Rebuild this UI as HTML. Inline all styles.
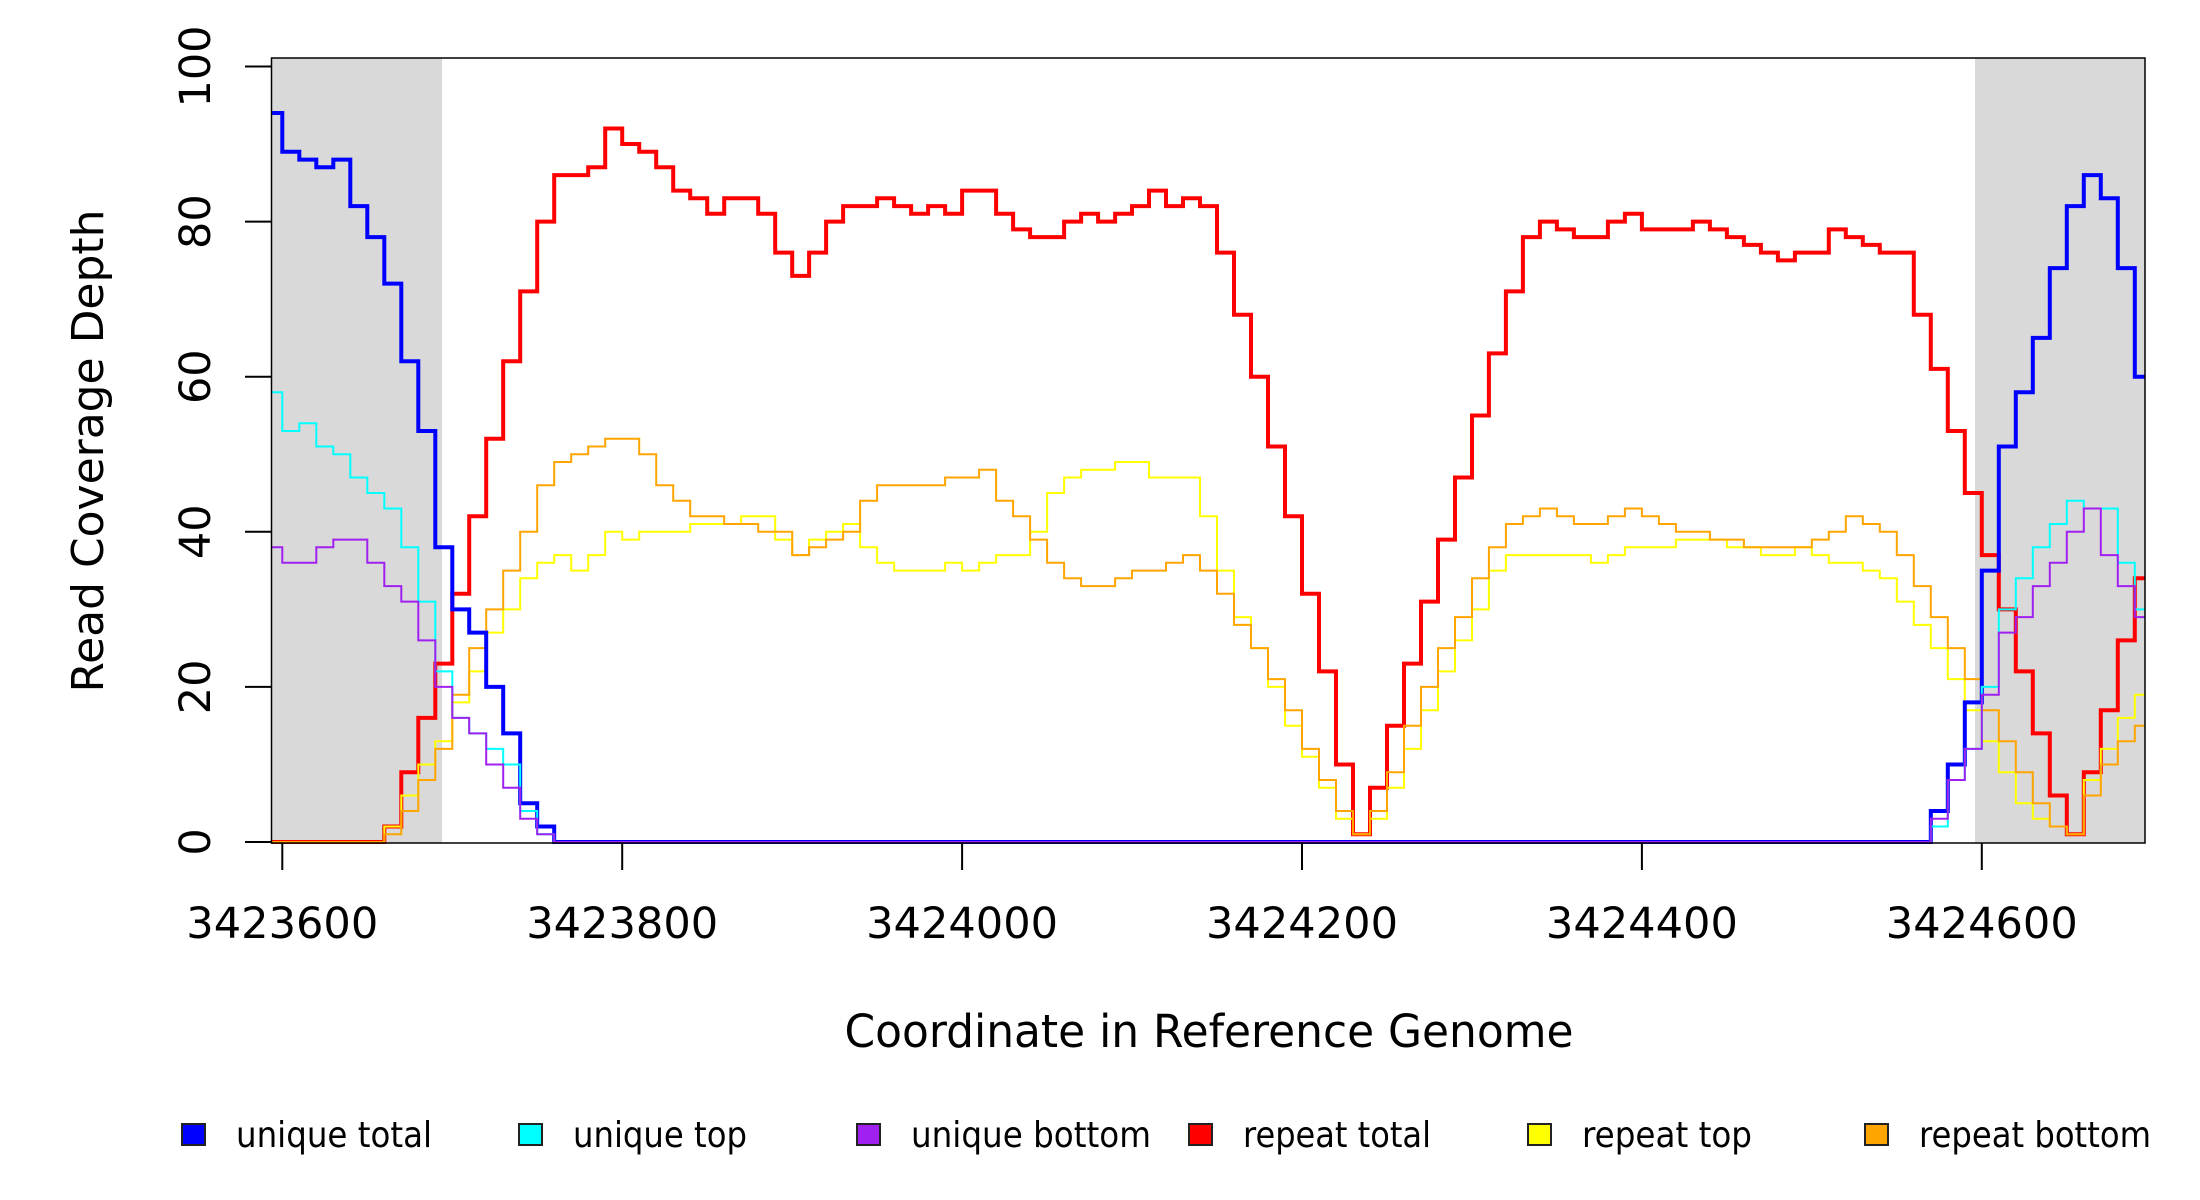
<!DOCTYPE html>
<html><head><meta charset="utf-8"><style>
html,body{margin:0;padding:0;background:#fff;}
svg{display:block;font-family:"DejaVu Sans","Liberation Sans",sans-serif;}
</style></head><body>
<svg id="chart" width="2200" height="1200" viewBox="0 0 2200 1200" xmlns="http://www.w3.org/2000/svg">
<g id="bg"></g>
<g id="series"></g>
<g id="axes"></g>
<text transform="translate(103,451) rotate(-90)" text-anchor="middle" font-size="44" textLength="483" lengthAdjust="spacingAndGlyphs">Read Coverage Depth</text>
<text x="1209" y="1047" text-anchor="middle" font-size="45" textLength="729" lengthAdjust="spacingAndGlyphs">Coordinate in Reference Genome</text>
<g id="legend"></g>
</svg>
<script>
// Positions: offset from 3423600, center of each 10bp bin: -5,5,...,1095
const binStart = -5;
const binWidth = 10;
const xTicks = [3423600, 3423800, 3424000, 3424200, 3424400, 3424600];
const yTicks = [0, 20, 40, 60, 80, 100];
const shadedRegions = [[3423594, 3423694], [3424596, 3424698]];
const seriesNames = ["repeat total","repeat top","repeat bottom","unique total","unique top","unique bottom"];
const legendOrder = ["unique total","unique top","unique bottom","repeat total","repeat top","repeat bottom"];
const legendWidths = [196,174,240,188,170,232];

const repeatTotal = [0,0,0,0,0,0,0,2,9,16,23,32,42,52,62,71,80,86,86,87,92,90,89,87,84,83,81,83,83,81,76,73,76,80,82,82,83,82,81,82,81,84,84,81,79,78,78,80,81,80,81,82,84,82,83,82,76,68,60,51,42,32,22,10,1,7,15,23,31,39,47,55,63,71,78,80,79,78,78,80,81,79,79,79,80,79,78,77,76,75,76,76,79,78,77,76,76,68,61,53,45,37,30,22,14,6,1,9,17,26,34];
const repeatTop = [0,0,0,0,0,0,0,2,6,10,13,18,22,27,30,34,36,37,35,37,40,39,40,40,40,41,41,41,42,42,39,37,39,40,41,38,36,35,35,35,36,35,36,37,37,40,45,47,48,48,49,49,47,47,47,42,35,29,25,20,15,11,7,3,1,3,7,12,17,22,26,30,35,37,37,37,37,37,36,37,38,38,38,39,39,39,38,38,37,37,38,37,36,36,35,34,31,28,25,21,17,13,9,5,3,2,1,8,12,16,19];
const repeatBottom = [0,0,0,0,0,0,0,1,4,8,12,19,25,30,35,40,46,49,50,51,52,52,50,46,44,42,42,41,41,40,40,37,38,39,40,44,46,46,46,46,47,47,48,44,42,39,36,34,33,33,34,35,35,36,37,35,32,28,25,21,17,12,8,4,1,4,9,15,20,25,29,34,38,41,42,43,42,41,41,42,43,42,41,40,40,39,39,38,38,38,38,39,40,42,41,40,37,33,29,25,21,17,13,9,5,2,1,6,10,13,15];
const uniqueTotal = [94,89,88,87,88,82,78,72,62,53,38,30,27,20,14,5,2,
0,0,0,0,0,0,0,0,0,0,0,0,0,0,0,0,0,0,0,0,0,0,0,0,0,0,0,0,0,0,0,0,0,0,0,0,0,0,0,0,0,0,0,0,0,0,0,0,0,0,0,0,0,0,0,0,0,0,0,0,0,0,0,0,0,0,0,0,0,0,0,0,0,0,0,0,0,0,0,0,
0,4,10,18,35,51,58,65,74,82,86,83,74,60,49];
const uniqueTop = [58,53,54,51,50,47,45,43,38,31,22,16,14,12,10,4,1,
0,0,0,0,0,0,0,0,0,0,0,0,0,0,0,0,0,0,0,0,0,0,0,0,0,0,0,0,0,0,0,0,0,0,0,0,0,0,0,0,0,0,0,0,0,0,0,0,0,0,0,0,0,0,0,0,0,0,0,0,0,0,0,0,0,0,0,0,0,0,0,0,0,0,0,0,0,0,0,0,
0,2,8,12,20,30,34,38,41,44,43,43,36,30,25];
const uniqueBottom = [38,36,36,38,39,39,36,33,31,26,20,16,14,10,7,3,1,
0,0,0,0,0,0,0,0,0,0,0,0,0,0,0,0,0,0,0,0,0,0,0,0,0,0,0,0,0,0,0,0,0,0,0,0,0,0,0,0,0,0,0,0,0,0,0,0,0,0,0,0,0,0,0,0,0,0,0,0,0,0,0,0,0,0,0,0,0,0,0,0,0,0,0,0,0,0,0,0,
0,3,8,12,19,27,29,33,36,40,43,37,33,29,26];

const NS = "http://www.w3.org/2000/svg";
const L = 271.5, R = 2145, T = 58, B = 843;
const bpMin = 3423594, bpMax = 3424698;
function xs(bp){ return 282.3 + (bp - 3423600) * 1.6995; }
function ys(v){ return 842 - v * 7.755; }
function mk(tag, attrs, parent){ const e = document.createElementNS(NS, tag); for (const k in attrs) e.setAttribute(k, attrs[k]); parent.appendChild(e); return e; }

const bg = document.getElementById('bg');
shadedRegions.forEach((r, i) => {
  const a = Math.max(xs(r[0]), L), b = Math.min(xs(r[1]), R);
  const el = mk('rect', {x:a, y:T, width:b-a, height:B-T, fill:'#d9d9d9'}, bg);
  
  
});

const defs = mk('defs', {}, document.getElementById('chart'));
const cp = mk('clipPath', {id:'clip'}, defs);
mk('rect', {x:L, y:T-5, width:R-L, height:B-T+10}, cp);

const seriesData = [repeatTotal, repeatTop, repeatBottom, uniqueTotal, uniqueTop, uniqueBottom];
const colors = ["#ff0000","#ffff00","#ffa500","#0000ff","#00ffff","#a020f0"];
const widths = [4,2,2,4,2,2];
const sg = document.getElementById('series');
sg.setAttribute('clip-path','url(#clip)');
seriesData.forEach((arr, s) => {
  let d = "";
  arr.forEach((v, i) => {
    const c = 3423600 + binStart + i * binWidth;
    const x0 = xs(c - binWidth/2), x1 = xs(c + binWidth/2), y = ys(v);
    d += (i === 0 ? "M" : "L") + x0.toFixed(1) + "," + y.toFixed(1) + "L" + x1.toFixed(1) + "," + y.toFixed(1);
  });
  const p = mk('path', {d:d, fill:'none', stroke:colors[s], 'stroke-width':widths[s], 'stroke-linejoin':'miter'}, sg);
  
  
});

const ax = document.getElementById('axes');
const box = mk('rect', {x:L, y:T, width:R-L, height:B-T, fill:'none', stroke:'#000', 'stroke-width':1.5}, ax);


yTicks.forEach(v => {
  const y = ys(v);
  const t = mk('line', {x1:245, x2:L, y1:y, y2:y, stroke:'#000', 'stroke-width':2}, ax);
  
  
  const lb = mk('text', {transform:'translate(210,'+y+') rotate(-90)', 'text-anchor':'middle', 'font-size':43}, ax);
  lb.textContent = v;
  
  
});
xTicks.forEach(v => {
  const x = xs(v);
  const t = mk('line', {x1:x, x2:x, y1:B, y2:870, stroke:'#000', 'stroke-width':2}, ax);
  
  
  const lb = mk('text', {x:x, y:938, 'text-anchor':'middle', 'font-size':43, textLength:192, lengthAdjust:'spacingAndGlyphs'}, ax);
  lb.textContent = v;
  
  
});

const lg = document.getElementById('legend');
const legendX = [182, 519, 857, 1189, 1528, 1865];
const legendColors = ["#0000ff","#00ffff","#a020f0","#ff0000","#ffff00","#ffa500"];
legendOrder.forEach((name, i) => {
  const g = mk('g', {}, lg);
  
  
  const sq = mk('rect', {x:legendX[i], y:1124, width:23, height:21, fill:legendColors[i], stroke:'#222', 'stroke-width':2}, g);
  
  
  const tx = mk('text', {x:legendX[i]+54, y:1147, 'font-size':36, textLength:legendWidths[i], lengthAdjust:'spacingAndGlyphs'}, g);
  tx.textContent = name;
  
  
});
</script>
</body></html>
